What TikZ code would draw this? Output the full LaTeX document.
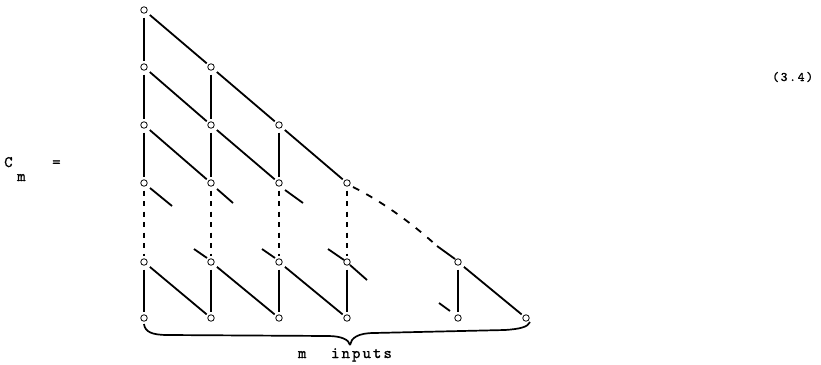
\documentclass[tikz,border=0pt]{standalone}
\usepackage{fontspec}
\newfontfamily\tw{lmmono10-regular.otf}[LetterSpace=13,FakeBold=1.2]
\begin{document}
\begin{tikzpicture}[x=1pt,y=-1pt,
  dot/.style={circle,draw,line width=0.8pt,minimum size=6.5pt,inner sep=0pt},
  ln/.style={line width=1.8pt,shorten <=4pt,shorten >=2pt},
  dsh/.style={ln,dash pattern=on 5pt off 5.5pt},
  stub/.style={line width=1.8pt},
  brace/.style={line width=1.7pt},
  txt/.style={inner sep=0pt,anchor=base west}]
\useasboundingbox (0,0) rectangle (821,364);
% nodes: n<col><row>
\node[dot] (n00) at (144,10) {};
\node[dot] (n01) at (144,67) {};
\node[dot] (n11) at (211,67) {};
\node[dot] (n02) at (144,125) {};
\node[dot] (n12) at (211,125) {};
\node[dot] (n22) at (279,125) {};
\node[dot] (n03) at (144,183) {};
\node[dot] (n13) at (211,183) {};
\node[dot] (n23) at (279,183) {};
\node[dot] (n33) at (347,183) {};
\node[dot] (n04) at (144,262) {};
\node[dot] (n14) at (211,262) {};
\node[dot] (n24) at (279,262) {};
\node[dot] (n34) at (347,262) {};
\node[dot] (n44) at (458,262) {};
\node[dot] (n05) at (144,318) {};
\node[dot] (n15) at (211,318) {};
\node[dot] (n25) at (279,318) {};
\node[dot] (n35) at (347,318) {};
\node[dot] (n45) at (458,318) {};
\node[dot] (n55) at (526,318) {};
% solid verticals
\foreach \a/\b in {n00/n01,n01/n02,n02/n03,n11/n12,n12/n13,n22/n23,
                   n04/n05,n14/n15,n24/n25,n34/n35,n44/n45}
  \draw[ln] (\a) -- (\b);
% dashed verticals
\foreach \a/\b in {n03/n04,n13/n14,n23/n24,n33/n34}
  \draw[dsh] (\a) -- (\b);
% solid diagonals
\foreach \a/\b in {n00/n11,n01/n12,n11/n22,n02/n13,n12/n23,n22/n33,
                   n04/n15,n14/n25,n24/n35,n44/n55}
  \draw[ln] (\a) -- (\b);
% stubs
\draw[stub] ([shift={(6,5)}]n03.center) -- ([shift={(28,23)}]n03.center);
\draw[stub] ([shift={(6,6)}]n13.center) -- ([shift={(22,20)}]n13.center);
\draw[stub] ([shift={(6,7)}]n23.center) -- ([shift={(24,20)}]n23.center);
\draw[stub] ([shift={(-17,-13)}]n14.center) -- ([shift={(-4,-4)}]n14.center);
\draw[stub] ([shift={(-17,-13)}]n24.center) -- ([shift={(-4,-4)}]n24.center);
\draw[stub] ([shift={(-19,-13)}]n34.center) -- ([shift={(-3,-2)}]n34.center);
\draw[stub] ([shift={(3,3)}]n34.center) -- ([shift={(20,18)}]n34.center);
\draw[stub] ([shift={(-19,-15)}]n45.center) -- ([shift={(-8,-7)}]n45.center);
% dashed curved diagonal
\coordinate (dd) at (437,246);
\draw[stub,dash pattern=on 7pt off 8pt] ([shift={(6,4)}]n33.center) .. controls (385,203) and (415,226) .. (dd);
\draw[stub] (dd) -- ([shift={(-3,-3)}]n44.center);
% brace
\coordinate (bl) at (144,324);
\coordinate (bt) at (350,345);
\coordinate (br) at (530,322);
\draw[brace] (bl) .. controls (145,332) and (152,335) .. (168,335)
  -- (328,336) .. controls (342,336) and (349,340) .. (bt);
\draw[brace] (bt) .. controls (351,338) and (358,333) .. (374,333)
  -- (505,330) .. controls (520,329) and (528,327) .. (br);
% labels
\node[txt,font=\tw\fontsize{16pt}{18pt}\selectfont] (inp) at (297.8,358) {m\hspace{24.7pt}inputs};
\node[txt,font=\tw\fontsize{13pt}{15pt}\selectfont] (eq) at (772,81) {(3.4)};
\node[txt,font=\tw\fontsize{16pt}{18pt}\selectfont] (C) at (4,167) {C};
\node[txt,font=\tw\fontsize{16pt}{18pt}\selectfont] (m) at (17,181) {m};
\node[txt,font=\tw\fontsize{16pt}{18pt}\selectfont] (eqs) at (52,167) {=};
\end{tikzpicture}
\end{document}
